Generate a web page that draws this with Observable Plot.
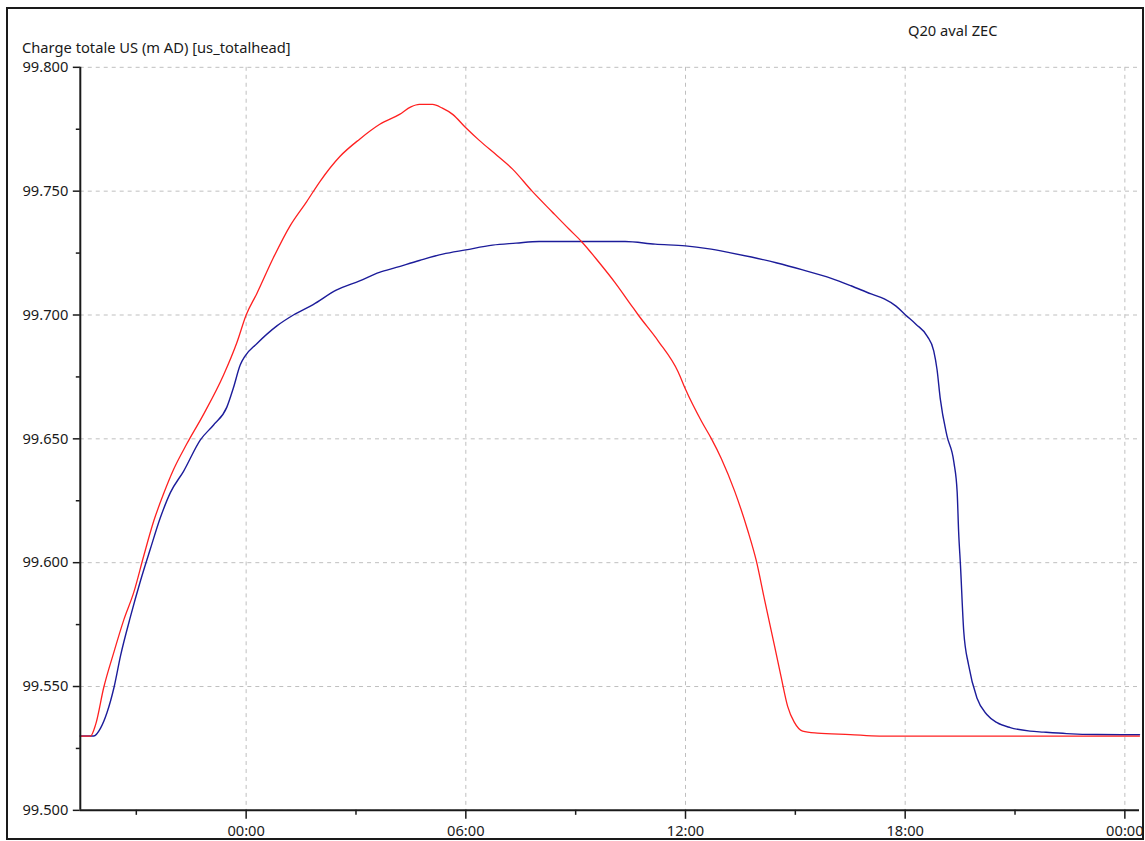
<!DOCTYPE html>
<html>
<head>
<meta charset="utf-8">
<script src="https://cdn.jsdelivr.net/npm/d3@7"></script>
<script src="https://cdn.jsdelivr.net/npm/@observablehq/plot@0.6"></script>
<style>
  html, body { margin: 0; padding: 0; background: #fff; }
  body { width: 1145px; height: 841px; position: relative; overflow: hidden; font-family: "Noto Sans", sans-serif; }
  #frame { position: absolute; left: 6px; top: 7px; width: 1138px; height: 833px; border: 2px solid #1a1a1a; box-sizing: border-box; overflow: hidden; }
  #chart { position: absolute; left: -8px; top: -9px; }
  .lbl { position: absolute; font-size: 14.7px; line-height: 15px; color: #1a1a1a; white-space: nowrap; }
</style>
</head>
<body>
<div id="frame"><div id="chart"></div></div>
<div class="lbl" id="ytitle" style="left:22px; top:40px;">Charge totale US (m AD) [us_totalhead]</div>
<div class="lbl" id="title" style="left:908px; top:23px;">Q20 aval ZEC</div>
<script>
// Hours relative to 00:00 of the simulated day (negative = previous evening)
const redHours = [-4.53, -4.25, -4.11, -3.89, -3.61, -3.34, -3.07, -2.80, -2.52, -2.25, -1.98, -1.62, -1.16, -0.62, -0.25, 0, 0.29, 0.74, 1.2, 1.65, 2.02, 2.56, 3.1, 3.65, 4.19, 4.5, 4.73, 5.09, 5.36, 5.64, 6.0, 6.36, 6.86, 7.27, 7.81, 8.36, 8.81, 9.17, 9.63, 10.08, 10.53, 10.71, 11.26, 11.80, 12.0, 12.44, 12.71, 12.98, 13.34, 13.70, 13.93, 14.16, 14.43, 14.61, 14.79, 14.97, 15.20, 15.6, 16.5, 17.3, 24.4];
const redValues = [99.530, 99.530, 99.5347, 99.5496, 99.564, 99.577, 99.588, 99.6026, 99.617, 99.628, 99.6377, 99.648, 99.660, 99.6757, 99.689, 99.700, 99.7086, 99.723, 99.736, 99.7457, 99.754, 99.764, 99.771, 99.777, 99.781, 99.784, 99.785, 99.785, 99.7835, 99.781, 99.7756, 99.7706, 99.7643, 99.759, 99.750, 99.7416, 99.7348, 99.7295, 99.7214, 99.713, 99.7037, 99.700, 99.6894, 99.677, 99.670, 99.657, 99.650, 99.642, 99.629, 99.613, 99.601, 99.585, 99.5665, 99.554, 99.542, 99.5356, 99.532, 99.5312, 99.5306, 99.530, 99.530];

const blueHours = [-4.53, -4.16, -3.98, -3.80, -3.61, -3.43, -3.16, -2.89, -2.62, -2.34, -2.07, -1.71, -1.25, -0.89, -0.53, -0.35, -0.16, -0.03, 0.29, 0.84, 1.29, 1.83, 2.46, 3.10, 3.64, 4.10, 4.73, 5.37, 6.0, 6.73, 7.37, 8.0, 10.35, 11.17, 12.0, 12.6, 13.2, 13.8, 14.5, 15.2, 15.98, 16.52, 17.07, 17.43, 17.75, 18.01, 18.3, 18.6, 18.78, 18.87, 18.96, 19.14, 19.33, 19.42, 19.46, 19.51, 19.60, 19.73, 19.96, 20.23, 20.51, 20.87, 21.41, 21.78, 22.41, 23.23, 24.4];
const blueValues = [99.530, 99.530, 99.5331, 99.5395, 99.5496, 99.5625, 99.5782, 99.5925, 99.6054, 99.6183, 99.6283, 99.6369, 99.6496, 99.6556, 99.6627, 99.6705, 99.6799, 99.6834, 99.6884, 99.6956, 99.700, 99.7042, 99.710, 99.7138, 99.7172, 99.7192, 99.722, 99.7246, 99.7263, 99.7282, 99.729, 99.7297, 99.7297, 99.7286, 99.7279, 99.7268, 99.7252, 99.7234, 99.7210, 99.7182, 99.7148, 99.7118, 99.7085, 99.7065, 99.7036, 99.700, 99.6962, 99.6915, 99.6855, 99.678, 99.666, 99.6513, 99.6406, 99.6285, 99.6125, 99.599, 99.5722, 99.5588, 99.5454, 99.5387, 99.5354, 99.5334, 99.532, 99.5316, 99.531, 99.5306, 99.5305];

const yMajorTicks = [99.5, 99.55, 99.6, 99.65, 99.7, 99.75, 99.8];
const yMinorTicks = [99.525, 99.575, 99.625, 99.675, 99.725, 99.775];
const xMajorHours = [0, 6, 12, 18, 24];
const xMinorHours = [-3, 3, 9, 15, 21];
const xDomainHours = [-4.53, 24.4];

const base = Date.UTC(2020, 0, 2, 0, 0);
const toDate = h => new Date(base + h * 3600e3);

const red = redHours.map((h, i) => ({t: toDate(h), v: redValues[i]}));
const blue = blueHours.map((h, i) => ({t: toDate(h), v: blueValues[i]}));

const gridStyle = {stroke: "#bfbfbf", strokeOpacity: 1, strokeWidth: 1, strokeDasharray: "4,4"};
const axisColor = "#1a1a1a";

const chart = Plot.plot({
  width: 1145,
  height: 841,
  marginLeft: 80,
  marginRight: 3,
  marginTop: 67,
  marginBottom: 29,
  style: {fontFamily: "Noto Sans", fontSize: "14.7px", color: axisColor, background: "transparent", overflow: "visible"},
  x: {type: "utc", domain: xDomainHours.map(toDate)},
  y: {domain: [99.5, 99.8]},
  marks: [
    Plot.gridY(yMajorTicks, gridStyle),
    Plot.gridX(xMajorHours.map(toDate), gridStyle),
    Plot.line(blue, {x: "t", y: "v", stroke: "#1c1c9a", strokeWidth: 1.4, curve: "monotone-x"}),
    Plot.line(red, {x: "t", y: "v", stroke: "#ff2020", strokeWidth: 1.3, curve: "monotone-x"}),
    Plot.axisY(yMajorTicks, {tickSize: 7, tickPadding: 5, tickFormat: d3.format(".3f"), label: null, strokeWidth: 1.5}),
    Plot.axisY(yMinorTicks, {tickSize: 4, tickFormat: () => "", label: null, strokeWidth: 1.5}),
    Plot.axisX(xMajorHours.map(toDate), {tickSize: 9, tickPadding: 6.5, tickFormat: d3.utcFormat("%H:%M"), label: null, strokeWidth: 1.5}),
    Plot.axisX(xMinorHours.map(toDate), {tickSize: 5, tickFormat: () => "", label: null, strokeWidth: 1.5}),
    Plot.ruleY([99.5], {stroke: axisColor, strokeWidth: 2}),
    Plot.ruleX([toDate(xDomainHours[0])], {stroke: axisColor, strokeWidth: 2})
  ]
});
document.getElementById("chart").appendChild(chart);
</script>
</body>
</html>
